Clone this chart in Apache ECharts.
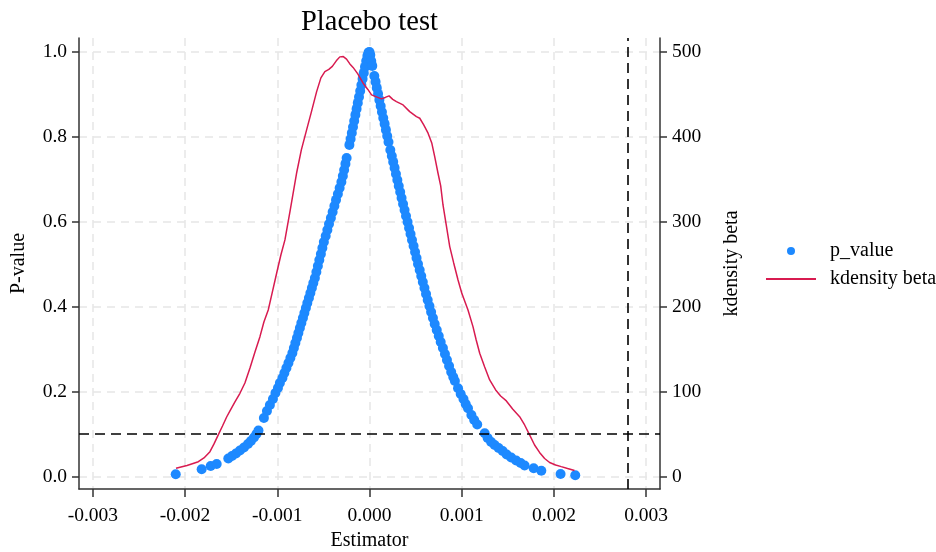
<!DOCTYPE html>
<html>
<head>
<meta charset="utf-8">
<script src="https://cdn.jsdelivr.net/npm/echarts@6/dist/echarts.min.js"></script>
<style>html,body{margin:0;padding:0;background:#fff}#c{width:936px;height:552px}</style>
</head>
<body>
<div id="c"></div>
<script>
// ---- tick labels ----
const xTicks = [-0.003, -0.002, -0.001, 0, 0.001, 0.002, 0.003];
const pTicks = [0, 0.2, 0.4, 0.6, 0.8, 1.0];
const kdTicks = [0, 100, 200, 300, 400, 500];
const pThreshold = 0.1;
const trueBeta = 0.0028;

// ---- placebo estimates (beta) and their p-values ----
const placeboBeta = [
-0.002101,-0.001820,-0.001722,-0.001657,-0.001531,-0.001491,-0.001448,-0.001405,-0.001361,-0.001318,
-0.001286,-0.001253,-0.001226,-0.001204,-0.001145,-0.001112,-0.001080,-0.001047,-0.001020,-0.000993,
-0.000972,-0.000944,-0.000923,-0.000901,-0.000879,-0.000858,-0.000836,-0.000820,-0.000804,-0.000787,
-0.000771,-0.000755,-0.000739,-0.000722,-0.000706,-0.000690,-0.000674,-0.000657,-0.000641,-0.000625,
-0.000609,-0.000592,-0.000576,-0.000560,-0.000544,-0.000527,-0.000511,-0.000495,-0.000475,-0.000457,
-0.000439,-0.000419,-0.000400,-0.000381,-0.000363,-0.000343,-0.000324,-0.000305,-0.000289,-0.000275,
-0.000261,-0.000248,-0.000218,-0.000205,-0.000192,-0.000179,-0.000166,-0.000153,-0.000140,-0.000127,
-0.000114,-0.000101,-0.000088,-0.000075,-0.000062,-0.000049,-0.000036,-0.000023,-0.000010,0.000000,
0.000009,0.000019,0.000030,0.000052,0.000066,0.000079,0.000093,0.000107,0.000121,0.000135,
0.000149,0.000164,0.000178,0.000192,0.000206,0.000226,0.000242,0.000257,0.000272,0.000287,
0.000302,0.000317,0.000333,0.000348,0.000364,0.000380,0.000396,0.000413,0.000429,0.000445,
0.000461,0.000478,0.000494,0.000510,0.000526,0.000544,0.000561,0.000578,0.000596,0.000613,
0.000631,0.000650,0.000668,0.000688,0.000707,0.000729,0.000751,0.000772,0.000796,0.000818,
0.000840,0.000863,0.000886,0.000908,0.000926,0.000960,0.000989,0.001019,0.001043,0.001068,
0.001105,0.001135,0.001168,0.001249,0.001281,0.001319,0.001357,0.001400,0.001444,0.001487,
0.001536,0.001590,0.001639,0.001682,0.001780,0.001863,0.002072,0.002231
];
const placeboP = [
0.0056,0.0174,0.0252,0.0299,0.0428,0.0487,0.0546,0.0616,0.0687,0.0769,
0.0840,0.0922,0.1005,0.1087,0.1381,0.1546,0.1687,0.1828,0.1969,0.2087,
0.2205,0.2322,0.2440,0.2558,0.2675,0.2793,0.2911,0.3028,0.3146,0.3264,
0.3381,0.3499,0.3616,0.3734,0.3852,0.3969,0.4087,0.4205,0.4322,0.4440,
0.4558,0.4675,0.4816,0.4958,0.5099,0.5240,0.5381,0.5522,0.5664,0.5805,
0.5946,0.6087,0.6228,0.6369,0.6511,0.6652,0.6793,0.6934,0.7075,0.7216,
0.7358,0.7499,0.7805,0.7946,0.8087,0.8228,0.8369,0.8511,0.8652,0.8793,
0.8934,0.9075,0.9216,0.9358,0.9499,0.9640,0.9781,0.9899,0.9981,0.9990,
0.9922,0.9781,0.9664,0.9428,0.9287,0.9146,0.9005,0.8864,0.8722,0.8581,
0.8440,0.8299,0.8158,0.8016,0.7875,0.7687,0.7546,0.7405,0.7264,0.7122,
0.6981,0.6840,0.6699,0.6558,0.6416,0.6275,0.6134,0.5993,0.5852,0.5711,
0.5569,0.5428,0.5287,0.5146,0.5005,0.4864,0.4722,0.4581,0.4440,0.4299,
0.4158,0.4016,0.3875,0.3734,0.3593,0.3452,0.3311,0.3169,0.3028,0.2887,
0.2746,0.2605,0.2464,0.2346,0.2252,0.2080,0.1946,0.1828,0.1711,0.1609,
0.1452,0.1334,0.1228,0.1021,0.0911,0.0816,0.0746,0.0675,0.0605,0.0522,
0.0452,0.0381,0.0322,0.0264,0.0198,0.0141,0.0064,0.0033
];

// ---- kernel density of beta ----
const kdBeta = [
-0.002098,-0.001979,-0.001856,-0.001795,-0.001730,-0.001686,-0.001640,-0.001594,-0.001549,-0.001513,
-0.001459,-0.001405,-0.001351,-0.001296,-0.001242,-0.001188,-0.001145,-0.001098,-0.001053,-0.001007,
-0.000961,-0.000917,-0.000863,-0.000791,-0.000739,-0.000682,-0.000630,-0.000574,-0.000527,-0.000484,
-0.000441,-0.000403,-0.000360,-0.000322,-0.000284,-0.000249,-0.000213,-0.000178,-0.000127,-0.000069,
-0.000018,0.000022,0.000076,0.000130,0.000171,0.000212,0.000252,0.000292,0.000364,0.000436,
0.000509,0.000545,0.000588,0.000635,0.000675,0.000707,0.000743,0.000772,0.000797,0.000832,
0.000870,0.000913,0.000960,0.001000,0.001068,0.001122,0.001157,0.001195,0.001249,0.001303,
0.001368,0.001422,0.001484,0.001552,0.001628,0.001682,0.001736,0.001790,0.001844,0.001899,
0.001953,0.002018,0.002079,0.002148,0.002223
];
const kdDensity = [
9.9,13.2,17.6,22.0,29.4,38.5,49.1,59.6,70.2,77.3,
87.9,98.1,110.2,127.9,146.7,164.7,182.0,196.1,217.3,239.3,
260.8,278.5,311.4,356.9,384.4,407.9,429.1,452.6,469.1,476.5,
479.1,482.6,489.1,493.8,494.1,491.1,485.5,481.4,473.8,462.8,
455.5,449.1,446.7,444.4,446.1,447.9,443.8,441.2,437.3,429.4,
423.5,421.6,413.8,404.0,392.6,376.5,356.9,342.0,319.6,296.1,
270.6,251.4,231.4,216.1,196.1,176.5,160.8,145.2,129.1,113.8,
102.0,94.9,89.1,79.6,70.6,60.8,49.1,37.3,28.5,21.4,
16.7,13.8,11.8,9.6,7.3
];

const FONT = '"Liberation Serif", "Times New Roman", serif';
const AX = '#333';
const BLUE = '#1d89ff';
const RED = '#d81b50';
const gridLine = { show: true, lineStyle: { color: '#e6e6e6', width: 1.5, type: [8, 6] } };

const chart = echarts.init(document.getElementById('c'), null, { renderer: 'canvas' });
chart.setOption({
  animation: false,
  backgroundColor: '#fff',
  textStyle: { fontFamily: FONT },
  title: {
    text: 'Placebo test', left: 296, top: 3,
    textStyle: { fontFamily: FONT, fontSize: 28.5, fontWeight: 'normal', color: '#000' }
  },
  legend: [
    {
      data: ['p_value'], left: 787, top: 241, padding: 0,
      itemWidth: 8, itemHeight: 8, icon: 'circle',
      textStyle: { fontFamily: FONT, fontSize: 20, color: '#000', padding: [0, 0, 0, 30] }
    },
    {
      data: ['kdensity beta'], left: 766, top: 269, padding: 0,
      itemWidth: 50, itemHeight: 2, icon: 'rect',
      textStyle: { fontFamily: FONT, fontSize: 20, color: '#000', padding: [0, 0, 0, 9] }
    }
  ],
  grid: { left: 79, right: 276, top: 38, bottom: 63, containLabel: false, outerBoundsMode: 'none' },
  xAxis: {
    type: 'value', min: -0.00315, max: 0.00315,
    name: 'Estimator', nameLocation: 'middle', nameGap: 41,
    nameTextStyle: { fontFamily: FONT, fontSize: 20, color: '#000' },
    axisLine: { show: true, onZero: false, lineStyle: { color: AX, width: 1.5 } },
    axisTick: { show: true, length: 8, customValues: xTicks, lineStyle: { color: AX, width: 1.5 } },
    axisLabel: { customValues: xTicks, margin: 17, fontFamily: FONT, fontSize: 19.5, color: '#000',
      formatter: v => v.toFixed(3) },
    splitLine: gridLine
  },
  yAxis: [
    {
      type: 'value', min: -0.029, max: 1.032, position: 'left',
      name: 'P-value', nameLocation: 'middle', nameGap: 50, nameRotate: 90,
      nameTextStyle: { fontFamily: FONT, fontSize: 20, color: '#000' },
      axisLine: { show: true, onZero: false, lineStyle: { color: AX, width: 1.5 } },
      axisTick: { show: true, length: 7, customValues: pTicks, lineStyle: { color: AX, width: 1.5 } },
      axisLabel: { customValues: pTicks, margin: 12, fontFamily: FONT, fontSize: 19.5, color: '#000',
        formatter: v => v.toFixed(1) },
      splitLine: gridLine
    },
    {
      type: 'value', min: -14.5, max: 516, position: 'right',
      name: 'kdensity beta', nameLocation: 'middle', nameGap: 62, nameRotate: 90,
      nameTextStyle: { fontFamily: FONT, fontSize: 20, color: '#000' },
      axisLine: { show: true, onZero: false, lineStyle: { color: AX, width: 1.5 } },
      axisTick: { show: true, length: 7, customValues: kdTicks, lineStyle: { color: AX, width: 1.5 } },
      axisLabel: { customValues: kdTicks, margin: 12, fontFamily: FONT, fontSize: 19.5, color: '#000',
        formatter: v => String(Math.round(v)) },
      splitLine: { show: false }
    }
  ],
  series: [
    {
      name: 'p_value', type: 'scatter', yAxisIndex: 0,
      symbol: 'circle', symbolSize: 10,
      itemStyle: { color: BLUE, opacity: 1 },
      data: placeboBeta.map((b, i) => [b, placeboP[i]]),
      markLine: {
        silent: true, symbol: 'none', precision: 6, label: { show: false },
        lineStyle: { color: '#000', width: 1.6, type: [10, 6] },
        data: [{ yAxis: pThreshold }, { xAxis: trueBeta }]
      }
    },
    {
      name: 'kdensity beta', type: 'line', yAxisIndex: 1,
      symbol: 'none', showSymbol: false, smooth: false,
      lineStyle: { color: RED, width: 1.5 },
      itemStyle: { color: RED },
      data: kdBeta.map((b, i) => [b, kdDensity[i]])
    }
  ]
});
</script>
</body>
</html>
